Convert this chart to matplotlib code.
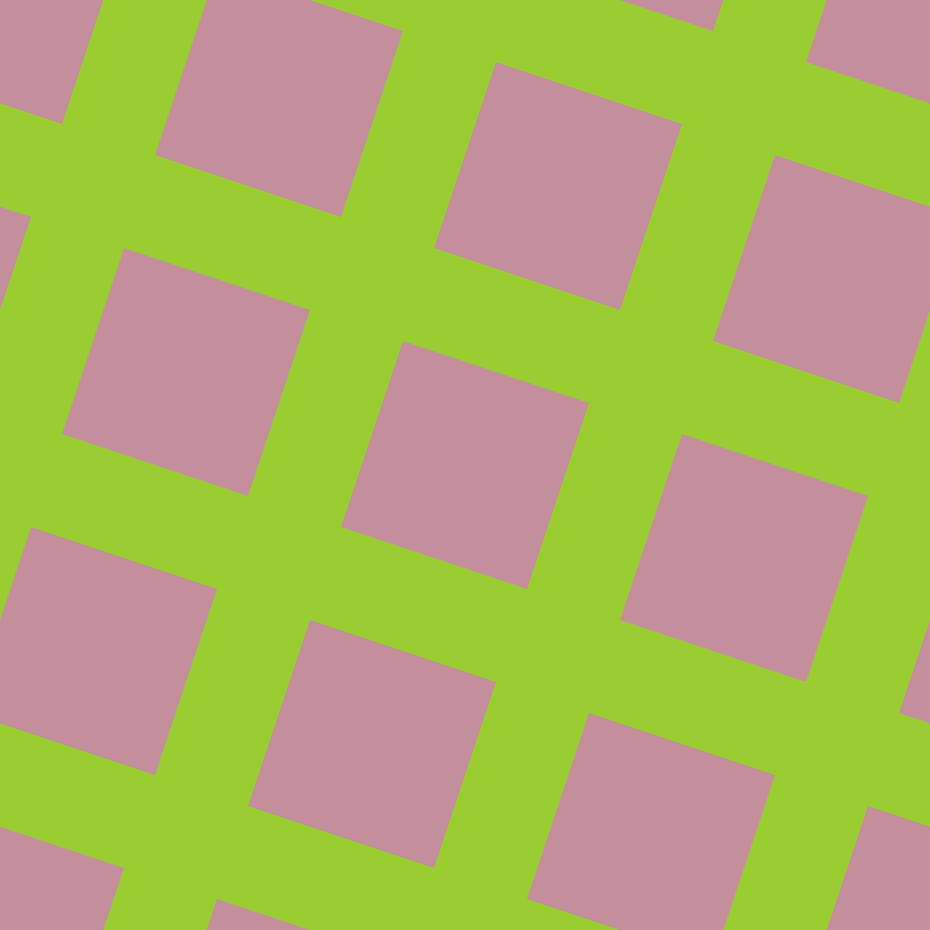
import numpy as np
import matplotlib
matplotlib.use("Agg")
import matplotlib.pyplot as plt
from matplotlib.patches import Polygon

# tile pattern settings (image pixel units)
background = "#9acd32"
tile_color = "#c48e9d"
period_vec_a = [279, 93]
period_vec_b = [-93, 279]
tile_side = 196
tile_rows = list(range(-2, 5))
tile_cols = list(range(-2, 5))

fig = plt.figure(figsize=(9.3, 9.3), dpi=100)
ax = fig.add_axes([0, 0, 1, 1])
ax.set_facecolor(background)
fig.patch.set_facecolor(background)

a = np.array(period_vec_a, dtype=float)
b = np.array(period_vec_b, dtype=float)
u = a / np.linalg.norm(a)
v = b / np.linalg.norm(b)
h = tile_side / 2

for i in tile_cols:
    for j in tile_rows:
        c = i * a + j * b
        pts = [c - h * u - h * v, c + h * u - h * v, c + h * u + h * v, c - h * u + h * v]
        ax.add_patch(Polygon(pts, closed=True, facecolor=tile_color, edgecolor="none"))

ax.set_xlim(0, 930)
ax.set_ylim(930, 0)
ax.axis("off")
fig.savefig("out.png", dpi=100, facecolor=background)
